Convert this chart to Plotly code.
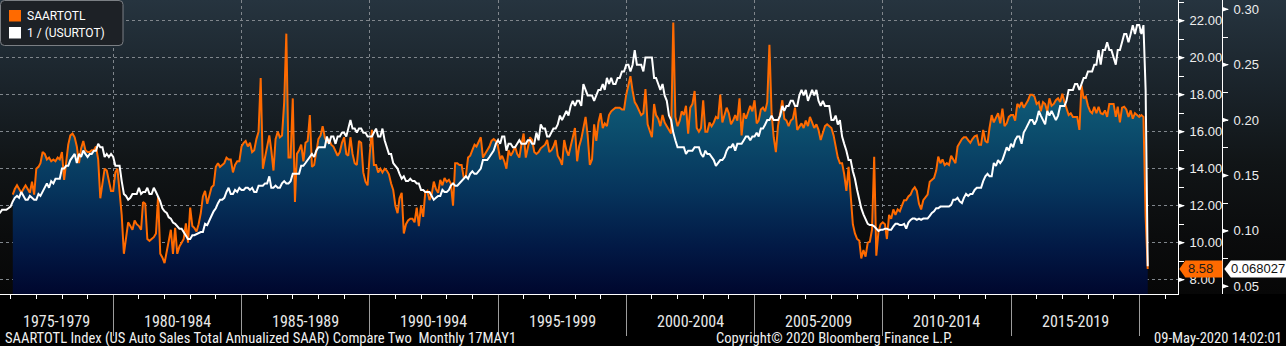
import base64
import pandas as pd
import plotly.graph_objects as go

# ---------------------------------------------------------------- data
# US auto sales, total annualized SAAR (millions), monthly from Jan 1976
saar_start = "1976-01"
saartotl = [
    12.6, 12.9, 13.1, 12.9, 12.7, 12.9, 13.1, 12.9, 12.7, 13.3, 12.6, 14.0,   # 1976
    14.1, 14.3, 14.9, 14.8, 14.5, 14.6, 14.4, 14.5, 14.4, 14.6, 14.5, 14.9,   # 1977
    13.4, 14.3, 15.3, 15.8, 15.9, 15.7, 15.2, 14.3, 15.1, 15.5, 15.0, 14.9,   # 1978
    14.9, 15.0, 15.0, 15.2, 14.5, 12.4, 13.2, 14.0, 13.9, 13.4, 12.8, 12.8,   # 1979
    13.8, 14.0, 12.6, 11.5, 9.4, 10.3, 11.1, 10.9, 10.7, 11.2, 11.0, 10.9,    # 1980
    10.7, 12.2, 12.1, 10.2, 10.1, 10.2, 10.3, 10.5, 12.5, 9.4, 9.2, 8.9,      # 1981
    9.6, 10.2, 10.7, 9.4, 10.8, 9.4, 9.8, 10.0, 10.2, 11.05, 10.0, 11.9,      # 1982
    10.9, 10.8, 10.6, 11.0, 11.6, 12.5, 12.8, 12.1, 12.6, 13.0, 13.1, 14.1,   # 1983
    14.3, 14.1, 14.2, 14.3, 14.6, 14.5, 14.5, 13.8, 14.2, 14.4, 14.4, 15.2,   # 1984
    15.4, 15.5, 15.2, 15.4, 14.9, 15.0, 15.6, 16.0, 18.9, 14.0, 14.6, 15.2,   # 1985
    15.8, 15.0, 13.9, 15.6, 16.0, 15.7, 15.8, 17.6, 21.3, 14.6, 14.6, 17.8,   # 1986
    12.2, 14.8, 15.0, 15.3, 14.4, 15.4, 15.5, 16.9, 14.1, 14.2, 15.0, 15.6,   # 1987
    15.8, 16.3, 15.7, 15.4, 15.6, 15.3, 15.2, 14.9, 14.7, 14.9, 15.4, 15.7,   # 1988
    14.8, 14.7, 15.7, 14.8, 14.3, 14.2, 15.5, 15.4, 13.8, 13.3, 13.1, 14.8,   # 1989
    16.1, 14.2, 14.2, 13.8, 14.0, 13.8, 14.0, 13.9, 13.7, 13.2, 12.85, 12.0,  # 1990
    11.6, 12.4, 12.7, 10.5, 11.0, 11.2, 11.3, 11.3, 11.1, 11.9, 10.9, 12.0,   # 1991
    11.4, 12.7, 12.8, 12.3, 12.6, 13.3, 12.9, 12.7, 13.4, 13.1, 13.5, 13.3,   # 1992
    13.4, 13.2, 12.0, 14.3, 14.3, 14.2, 14.2, 13.5, 13.6, 14.6, 14.7, 15.0,   # 1993
    15.3, 15.2, 15.5, 15.7, 14.6, 14.8, 15.0, 15.2, 15.5, 15.6, 15.5, 15.2,   # 1994
    14.5, 14.7, 14.4, 14.0, 15.0, 14.7, 14.9, 15.2, 14.8, 14.6, 15.3, 15.9,   # 1995
    14.6, 15.2, 15.7, 15.55, 14.9, 14.8, 14.9, 15.1, 15.2, 15.3, 15.55, 14.9, # 1996
    15.0, 15.2, 15.55, 14.7, 14.5, 14.2, 15.55, 15.0, 14.7, 15.2, 15.55, 16.2, # 1997
    14.4, 15.2, 15.6, 16.3, 16.8, 15.8, 14.2, 14.5, 16.4, 15.5, 16.5, 17.0,   # 1998
    16.2, 16.45, 16.3, 16.9, 17.1, 17.2, 17.3, 17.3, 17.3, 17.2, 17.2, 18.0,  # 1999
    18.6, 19.0, 18.2, 17.6, 17.4, 17.1, 16.9, 17.0, 18.3, 16.4, 16.1, 15.7,   # 2000
    17.5, 16.9, 16.7, 16.3, 16.9, 16.5, 16.3, 16.1, 15.9, 21.9, 16.8, 16.3,   # 2001
    16.6, 17.1, 16.9, 17.4, 15.9, 17.3, 17.5, 18.2, 16.2, 16.0, 16.2, 17.7,   # 2002
    16.0, 16.0, 16.5, 16.3, 16.5, 16.8, 16.7, 18.0, 16.5, 16.9, 17.3, 17.0,   # 2003
    16.4, 16.6, 16.9, 16.6, 17.8, 15.8, 17.0, 16.7, 17.0, 17.4, 17.1, 17.7,   # 2004
    16.45, 16.6, 17.2, 17.3, 17.1, 17.6, 20.7, 17.0, 15.7, 14.9, 16.3, 16.9,  # 2005
    17.7, 16.7, 16.6, 16.3, 16.6, 16.7, 17.3, 16.1, 16.3, 16.45, 16.2, 16.6,  # 2006
    16.3, 16.8, 16.5, 16.2, 16.4, 16.1, 15.55, 16.0, 16.3, 16.4, 16.3, 16.2,  # 2007
    15.8, 15.2, 14.6, 14.3, 14.3, 13.7, 12.8, 14.1, 12.5, 11.0, 10.5, 10.2,   # 2008
    10.1, 9.15, 9.6, 9.25, 10.0, 10.05, 10.7, 14.65, 9.3, 10.6, 11.0, 11.1,   # 2009
    11.0, 10.2, 11.5, 11.3, 11.8, 11.5, 11.8, 11.7, 12.0, 12.3, 12.3, 12.5,   # 2010
    12.6, 12.85, 13.0, 12.8, 12.1, 11.8, 12.3, 12.45, 12.6, 13.3, 13.4, 13.5, # 2011
    13.9, 14.65, 14.3, 14.5, 14.2, 14.3, 14.2, 14.7, 14.5, 14.3, 15.2, 15.4,  # 2012
    15.6, 15.7, 15.7, 15.55, 15.4, 15.6, 15.75, 15.8, 15.3, 15.3, 16.1, 15.5, # 2013
    15.4, 16.2, 16.9, 16.5, 16.8, 17.0, 16.45, 17.25, 16.3, 16.45, 16.8, 16.9, # 2014
    16.9, 16.6, 17.5, 17.35, 17.6, 17.3, 17.5, 17.7, 18.0, 18.0, 17.9, 17.5,  # 2015
    17.6, 17.1, 17.6, 17.5, 17.1, 17.8, 17.4, 17.5, 17.7, 17.8, 17.6, 18.05,  # 2016
    17.6, 17.2, 16.9, 17.0, 16.8, 16.8, 16.8, 16.1, 18.5, 17.8, 17.9, 17.4,   # 2017
    17.1, 17.0, 17.35, 17.0, 17.35, 17.0, 16.95, 17.15, 16.8, 17.5, 17.5, 17.5, # 2018
    16.8, 17.35, 16.5, 17.3, 17.35, 17.2, 16.8, 17.15, 16.7, 17.0, 16.9, 16.8, # 2019
    16.9, 16.8, 11.4, 8.58,                                                   # 2020
]

# US unemployment rate (%), monthly from Jan 1975; plotted as its reciprocal
usurtot_start = "1975-01"
usurtot = [
    8.1, 8.1, 8.6, 8.8, 9.0, 8.8, 8.6, 8.4, 8.4, 8.4, 8.3, 8.2,         # 1975
    7.9, 7.7, 7.6, 7.7, 7.4, 7.6, 7.8, 7.8, 7.6, 7.7, 7.8, 7.8,         # 1976
    7.5, 7.6, 7.4, 7.2, 7.0, 7.2, 6.9, 7.0, 6.8, 6.8, 6.8, 6.4,         # 1977
    6.4, 6.3, 6.3, 6.1, 6.0, 5.9, 6.2, 5.9, 6.0, 5.8, 5.9, 6.0,         # 1978
    5.9, 5.9, 5.8, 5.8, 5.6, 5.7, 5.7, 6.0, 5.9, 6.0, 5.9, 6.0,         # 1979
    6.3, 6.3, 6.3, 6.9, 7.5, 7.6, 7.8, 7.7, 7.5, 7.5, 7.5, 7.2,         # 1980
    7.5, 7.4, 7.4, 7.2, 7.5, 7.5, 7.2, 7.4, 7.6, 7.9, 8.3, 8.5,         # 1981
    8.6, 8.9, 9.0, 9.3, 9.4, 9.6, 9.8, 9.8, 10.1, 10.4, 10.8, 10.8,     # 1982
    10.4, 10.4, 10.3, 10.2, 10.1, 10.1, 9.4, 9.5, 9.2, 8.8, 8.5, 8.3,   # 1983
    8.0, 7.8, 7.8, 7.7, 7.4, 7.2, 7.5, 7.5, 7.3, 7.4, 7.2, 7.3,         # 1984
    7.3, 7.2, 7.2, 7.3, 7.2, 7.4, 7.4, 7.1, 7.1, 7.1, 7.0, 7.0,         # 1985
    6.7, 7.2, 7.2, 7.1, 7.2, 7.2, 7.0, 6.9, 7.0, 7.0, 6.9, 6.6,         # 1986
    6.6, 6.6, 6.6, 6.3, 6.3, 6.2, 6.1, 6.0, 5.9, 6.0, 5.8, 5.7,         # 1987
    5.7, 5.7, 5.7, 5.4, 5.6, 5.4, 5.4, 5.6, 5.4, 5.4, 5.3, 5.3,         # 1988
    5.4, 5.2, 5.0, 5.2, 5.2, 5.3, 5.2, 5.2, 5.3, 5.3, 5.4, 5.4,         # 1989
    5.4, 5.3, 5.2, 5.4, 5.4, 5.2, 5.5, 5.7, 5.9, 5.9, 6.2, 6.3,         # 1990
    6.4, 6.6, 6.8, 6.7, 6.9, 6.9, 6.8, 6.9, 6.9, 7.0, 7.0, 7.3,         # 1991
    7.3, 7.4, 7.4, 7.4, 7.6, 7.8, 7.7, 7.6, 7.6, 7.3, 7.4, 7.4,         # 1992
    7.3, 7.1, 7.0, 7.1, 7.1, 7.0, 6.9, 6.8, 6.7, 6.8, 6.6, 6.5,         # 1993
    6.6, 6.6, 6.5, 6.4, 6.1, 6.1, 6.1, 6.0, 5.9, 5.8, 5.6, 5.5,         # 1994
    5.6, 5.4, 5.4, 5.8, 5.6, 5.6, 5.7, 5.7, 5.6, 5.5, 5.6, 5.6,         # 1995
    5.6, 5.5, 5.5, 5.6, 5.6, 5.3, 5.5, 5.1, 5.2, 5.2, 5.4, 5.4,         # 1996
    5.3, 5.2, 5.2, 5.1, 4.9, 5.0, 4.9, 4.8, 4.9, 4.7, 4.6, 4.7,         # 1997
    4.6, 4.6, 4.7, 4.3, 4.4, 4.5, 4.5, 4.5, 4.6, 4.5, 4.4, 4.4,         # 1998
    4.3, 4.4, 4.2, 4.3, 4.2, 4.3, 4.3, 4.2, 4.2, 4.1, 4.1, 4.0,         # 1999
    4.0, 4.1, 4.0, 3.8, 4.0, 4.0, 4.0, 4.1, 3.9, 3.9, 3.9, 3.9,         # 2000
    4.2, 4.2, 4.3, 4.4, 4.3, 4.5, 4.6, 4.9, 5.0, 5.3, 5.5, 5.7,         # 2001
    5.7, 5.7, 5.7, 5.9, 5.8, 5.8, 5.8, 5.7, 5.7, 5.7, 5.9, 6.0,         # 2002
    5.8, 5.9, 5.9, 6.0, 6.1, 6.3, 6.2, 6.1, 6.1, 6.0, 5.8, 5.7,         # 2003
    5.7, 5.6, 5.8, 5.6, 5.6, 5.6, 5.5, 5.4, 5.4, 5.5, 5.4, 5.4,         # 2004
    5.3, 5.4, 5.2, 5.2, 5.1, 5.0, 5.0, 4.9, 5.0, 5.0, 5.0, 4.9,         # 2005
    4.7, 4.8, 4.7, 4.7, 4.6, 4.6, 4.7, 4.7, 4.5, 4.4, 4.5, 4.4,         # 2006
    4.6, 4.5, 4.4, 4.5, 4.4, 4.6, 4.7, 4.6, 4.7, 4.7, 4.7, 5.0,         # 2007
    5.0, 4.9, 5.1, 5.0, 5.4, 5.6, 5.8, 6.1, 6.1, 6.5, 6.8, 7.3,         # 2008
    7.8, 8.3, 8.7, 9.0, 9.4, 9.5, 9.5, 9.6, 9.8, 10.0, 9.9, 9.9,        # 2009
    9.8, 9.8, 9.9, 9.9, 9.6, 9.4, 9.4, 9.5, 9.5, 9.4, 9.8, 9.3,         # 2010
    9.1, 9.0, 9.0, 9.1, 9.0, 9.1, 9.0, 9.0, 9.0, 8.8, 8.6, 8.5,         # 2011
    8.3, 8.3, 8.2, 8.2, 8.2, 8.2, 8.2, 8.1, 7.8, 7.8, 7.7, 7.9,         # 2012
    8.0, 7.7, 7.5, 7.6, 7.5, 7.5, 7.3, 7.2, 7.2, 7.2, 6.9, 6.7,         # 2013
    6.6, 6.7, 6.7, 6.2, 6.3, 6.1, 6.2, 6.1, 5.9, 5.7, 5.8, 5.6,         # 2014
    5.7, 5.5, 5.4, 5.4, 5.6, 5.3, 5.2, 5.1, 5.0, 5.0, 5.1, 5.0,         # 2015
    4.8, 4.9, 5.0, 5.1, 4.8, 4.9, 4.8, 4.9, 5.0, 4.9, 4.7, 4.7,         # 2016
    4.7, 4.6, 4.4, 4.4, 4.4, 4.3, 4.3, 4.4, 4.3, 4.2, 4.2, 4.1,         # 2017
    4.1, 4.1, 4.0, 4.0, 3.8, 4.0, 3.8, 3.8, 3.7, 3.8, 3.8, 3.9,         # 2018
    4.0, 3.8, 3.8, 3.7, 3.6, 3.6, 3.7, 3.6, 3.5, 3.6, 3.5, 3.5,         # 2019
    3.6, 3.5, 4.4, 14.7,                                                # 2020
]

left_ticks = [8, 10, 12, 14, 16, 18, 20, 22]
right_ticks = [0.05, 0.10, 0.15, 0.20, 0.25, 0.30]
period_labels = ["1975-1979", "1980-1984", "1985-1989", "1990-1994", "1995-1999",
                 "2000-2004", "2005-2009", "2010-2014", "2015-2019"]
footer_left = "SAARTOTL Index (US Auto Sales Total Annualized SAAR) Compare Two\u00a0 Monthly 17MAY1"
footer_mid = "Copyright\u00a9 2020 Bloomberg Finance L.P."
footer_right = "09-May-2020 14:02:01"

# ---------------------------------------------------------------- geometry
W, H = 1286, 346
PLOT_BOTTOM = 294          # pixel row of the time axis
AX1 = 1178                 # pixel column of the SAARTOTL scale
AX2 = 1222                 # pixel column of the 1/USURTOT scale
X_RANGE = ["1975-08-02", "2021-07-05"]
Y1_RANGE = [7.227, 23.119]
Y2_RANGE = [0.04305, 0.30839]

ORANGE = "#ff6a00"
GRID = "#80868c"
TICK_FONT = dict(family="Liberation Sans, Arial, sans-serif", size=13, color="#eeeeee")
NARROW = "Liberation Sans Narrow, Arial Narrow, Roboto Condensed, Liberation Sans, sans-serif"


def px(p):
    return p / W


def py(p):
    return (PLOT_BOTTOM - p) / PLOT_BOTTOM


def month_ends(start, n):
    return pd.date_range(start + "-01", periods=n, freq="MS") + pd.offsets.MonthEnd(0)


saar_dates = month_ends(saar_start, len(saartotl))
ur_dates = month_ends(usurtot_start, len(usurtot))
inv_ur = [1.0 / u for u in usurtot]

fig = go.Figure()

# auto sales: orange line over a navy-to-teal area
fig.add_trace(go.Scatter(
    x=saar_dates, y=saartotl, mode="lines", name="SAARTOTL",
    line=dict(color=ORANGE, width=2), fill="tozeroy",
    fillgradient=dict(
        type="vertical", start=Y1_RANGE[0], stop=20.5,
        colorscale=[[0.0, "#00072e"], [0.2, "#021a46"], [0.42, "#06345c"],
                    [0.68, "#0c4f6e"], [1.0, "#156c86"]]),
    yaxis="y", hoverinfo="skip"))

# reciprocal of the unemployment rate
fig.add_trace(go.Scatter(
    x=ur_dates, y=inv_ur, mode="lines", name="1 / (USURTOT)",
    line=dict(color="white", width=2), yaxis="y2", hoverinfo="skip"))

# dark slate-to-black backdrop behind the plotting area
bg_svg = (
    '<svg xmlns="http://www.w3.org/2000/svg" width="10" height="100" '
    'viewBox="0 0 10 100" preserveAspectRatio="none">'
    '<defs><linearGradient id="g" x1="0" y1="0" x2="0" y2="1">'
    '<stop offset="0" stop-color="#26343f"/>'
    '<stop offset="0.3" stop-color="#1a232a"/>'
    '<stop offset="0.55" stop-color="#111517"/>'
    '<stop offset="0.8" stop-color="#0b0c0d"/>'
    '<stop offset="1" stop-color="#070707"/>'
    '</linearGradient></defs><rect width="10" height="100" fill="url(#g)"/></svg>')
fig.add_layout_image(
    source="data:image/svg+xml;base64," + base64.b64encode(bg_svg.encode()).decode(),
    xref="paper", yref="paper", x=0, y=1, sizex=1, sizey=1,
    xanchor="left", yanchor="top", sizing="stretch", layer="below")

shapes = []
annotations = []

# arrow-head tick markers on both value scales
for v in left_ticks:
    shapes.append(dict(type="path", xref="paper", yref="y", xsizemode="pixel", ysizemode="pixel",
                       xanchor=px(AX1), yanchor=v, path="M0,-2.5 L7,0 L0,2.5 Z",
                       fillcolor="white", line=dict(color="rgba(0,0,0,0)", width=0), layer="above"))
for v in right_ticks:
    shapes.append(dict(type="path", xref="paper", yref="y2", xsizemode="pixel", ysizemode="pixel",
                       xanchor=px(AX2), yanchor=v, path="M0,-2.5 L7,0 L0,2.5 Z",
                       fillcolor="white", line=dict(color="rgba(0,0,0,0)", width=0), layer="above"))

# last-value tags
last_saar = saartotl[-1]
last_inv = inv_ur[-1]
shapes.append(dict(type="path", xref="paper", yref="y", xsizemode="pixel", ysizemode="pixel",
                   xanchor=px(AX1 + 1.3), yanchor=last_saar,
                   path="M0,0 L6,8.5 L43,8.5 L43,-8.5 L6,-8.5 Z",
                   fillcolor=ORANGE, line=dict(color="rgba(0,0,0,0)", width=0), layer="above"))
shapes.append(dict(type="path", xref="paper", yref="y", xsizemode="pixel", ysizemode="pixel",
                   xanchor=px(AX2 + 2.3), yanchor=last_saar,
                   path="M0,0 L6.5,8.5 L64,8.5 L64,-8.5 L6.5,-8.5 Z",
                   fillcolor="white", line=dict(color="rgba(0,0,0,0)", width=0), layer="above"))
annotations.append(dict(xref="paper", yref="y", x=px(1200), y=last_saar, text=f"{last_saar:.2f}",
                        showarrow=False, xanchor="center", yanchor="middle",
                        font=dict(family=TICK_FONT["family"], size=13, color="#1a1a1a")))
annotations.append(dict(xref="paper", yref="y", x=px(1258), y=last_saar, text=f"{last_inv:.6f}",
                        showarrow=False, xanchor="center", yanchor="middle",
                        font=dict(family=TICK_FONT["family"], size=13, color="#111111")))


def rounded_rect(x0, y0, x1, y1, r):
    X, Y = px, py
    return (f"M{X(x0 + r)},{Y(y0)} L{X(x1 - r)},{Y(y0)} Q{X(x1)},{Y(y0)} {X(x1)},{Y(y0 + r)} "
            f"L{X(x1)},{Y(y1 - r)} Q{X(x1)},{Y(y1)} {X(x1 - r)},{Y(y1)} "
            f"L{X(x0 + r)},{Y(y1)} Q{X(x0)},{Y(y1)} {X(x0)},{Y(y1 - r)} "
            f"L{X(x0)},{Y(y0 + r)} Q{X(x0)},{Y(y0)} {X(x0 + r)},{Y(y0)} Z")


# legend panel
shapes.append(dict(type="path", xref="paper", yref="paper", path=rounded_rect(0.5, 0.5, 123, 45.5, 4),
                   fillcolor="#1d2126", line=dict(color="#7b7f84", width=1), layer="above"))
for (top, color, label) in [(10, ORANGE, "SAARTOTL"), (27, "white", "1 / (USURTOT)")]:
    shapes.append(dict(type="rect", xref="paper", yref="paper",
                       x0=px(9), x1=px(21), y0=py(top), y1=py(top + 11.5),
                       fillcolor=color, line=dict(color="rgba(0,0,0,0)", width=0), layer="above"))
    annotations.append(dict(xref="paper", yref="paper", x=px(25), y=py(top + 5.8), text=label,
                            showarrow=False, xanchor="left", yanchor="middle",
                            font=dict(family="Roboto, Liberation Sans, sans-serif", size=12, color="white")))

# five-year period captions under the time axis
x_lo = pd.Timestamp(X_RANGE[0])
for i, lbl in enumerate(period_labels):
    start = pd.Timestamp(f"{1975 + 5 * i}-01-01")
    end = pd.Timestamp(f"{1980 + 5 * i}-01-01")
    vis = max(start, x_lo)
    mid = vis + (end - vis) / 2
    annotations.append(dict(xref="x", yref="paper", x=mid.strftime("%Y-%m-%d %H:%M:%S"), y=py(321),
                            text=lbl, showarrow=False, xanchor="center", yanchor="middle",
                            font=dict(family=NARROW, size=16, color="#e8e8e8")))

# footer line
for (x, anchor, txt) in [(3, "left", footer_left), (834, "center", footer_mid), (1284, "right", footer_right)]:
    annotations.append(dict(xref="paper", yref="paper", x=px(x), y=py(337.5), text=txt,
                            showarrow=False, xanchor=anchor, yanchor="middle",
                            font=dict(family=NARROW, size=14.6, color="#f0f0f0")))

fig.update_layout(
    width=W, height=H,
    margin=dict(l=0, r=0, t=0, b=H - PLOT_BOTTOM, pad=0),
    paper_bgcolor="#000000", plot_bgcolor="rgba(0,0,0,0)",
    showlegend=False, hovermode=False,
    shapes=shapes, annotations=annotations,
    xaxis=dict(
        type="date", domain=[0, px(AX1)], range=X_RANGE, fixedrange=True,
        tick0="1975-01-01", dtick="M60", ticks="outside", ticklen=41, tickwidth=1,
        tickcolor="#9c9c9c", showticklabels=False,
        showgrid=True, gridcolor=GRID, griddash="3px,3px", gridwidth=1,
        showline=True, linecolor="white", linewidth=1, zeroline=False,
        minor=dict(tick0="1975-01-01", dtick="M12", ticks="outside", ticklen=4,
                   tickcolor="white", tickwidth=1, showgrid=False),
    ),
    yaxis=dict(
        range=Y1_RANGE, side="right", anchor="x", fixedrange=True,
        tickmode="array", tickvals=left_ticks, tickformat=".2f", ticks="",
        ticklabelstandoff=8, tickfont=TICK_FONT,
        showgrid=True, gridcolor=GRID, griddash="3px,3px", gridwidth=1,
        showline=True, linecolor="white", linewidth=1, zeroline=False,
        minor=dict(tick0=0, dtick=1, ticks="outside", ticklen=5, tickcolor="white",
                   tickwidth=1, showgrid=False),
    ),
    yaxis2=dict(
        range=Y2_RANGE, overlaying="y", side="right", anchor="free", position=px(AX2),
        fixedrange=True, tickmode="array", tickvals=right_ticks, tickformat=".2f", ticks="",
        ticklabelstandoff=8, tickfont=TICK_FONT, showgrid=False,
        showline=True, linecolor="white", linewidth=1, zeroline=False,
        minor=dict(tick0=0, dtick=0.025, ticks="outside", ticklen=5, tickcolor="white",
                   tickwidth=1, showgrid=False),
    ),
)

fig.write_html("out.html", config={"displayModeBar": False})
